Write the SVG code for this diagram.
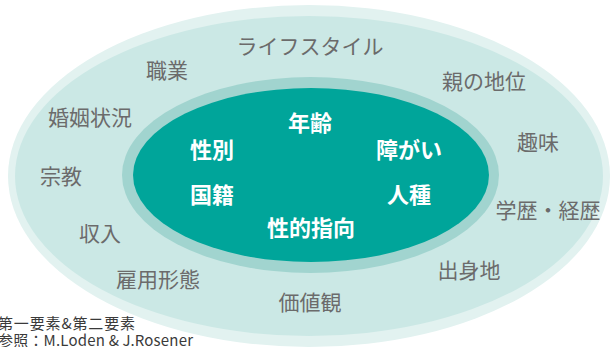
<svg xmlns="http://www.w3.org/2000/svg" width="611" height="347" viewBox="0 0 611 347">
<style>
.o{font-family:"Noto Sans CJK JP","Noto Sans",sans-serif;font-size:21px;fill:#6b6b6b;text-anchor:middle}
.i{font-family:"Noto Sans CJK JP","Noto Sans",sans-serif;font-size:22px;font-weight:bold;fill:#ffffff;text-anchor:middle}
.n{font-family:"Noto Sans CJK JP","Noto Sans",sans-serif;font-size:15px;fill:#3a3a3a}
</style>
<rect width="611" height="347" fill="#ffffff"/>
<g id="outer">
<ellipse cx="309" cy="176" rx="301" ry="171" fill="#e2f2f0"/>
<ellipse cx="309" cy="176" rx="294" ry="160" fill="#cbe8e5"/>
</g>
<g id="inner">
<ellipse cx="310.5" cy="175" rx="188.5" ry="98" fill="#a1d4cf"/>
<ellipse cx="311" cy="175" rx="178" ry="87" fill="#00a59a"/>
</g>
<g id="outer-labels">
<text id="lifestyle" class="o" x="310" y="54">ライフスタイル</text>
<text id="job" class="o" x="167" y="78">職業</text>
<text id="parent" class="o" x="484" y="89">親の地位</text>
<text id="marital" class="o" x="90" y="125">婚姻状況</text>
<text id="hobby" class="o" x="538" y="150">趣味</text>
<text id="religion" class="o" x="61" y="184">宗教</text>
<text id="edu" class="o" x="548" y="218">学歴・経歴</text>
<text id="income" class="o" x="100" y="241">収入</text>
<text id="origin" class="o" x="469" y="278">出身地</text>
<text id="employ" class="o" x="158" y="287">雇用形態</text>
<text id="values" class="o" x="310" y="310">価値観</text>
</g>
<g id="inner-labels">
<text id="age" class="i" x="310" y="131">年齢</text>
<text id="gender" class="i" x="212" y="158">性別</text>
<text id="disability" class="i" x="409" y="158">障がい</text>
<text id="nationality" class="i" x="212" y="203">国籍</text>
<text id="race" class="i" x="409" y="203">人種</text>
<text id="orientation" class="i" x="311" y="236">性的指向</text>
</g>
<g id="note">
<text class="n" x="-2" y="329" textLength="137" lengthAdjust="spacing">第一要素&amp;第二要素</text>
<text class="n" x="-2" y="346" textLength="195" lengthAdjust="spacing">参照：M.Loden &amp; J.Rosener</text>
</g>
<g id="connectors"/>
</svg>
